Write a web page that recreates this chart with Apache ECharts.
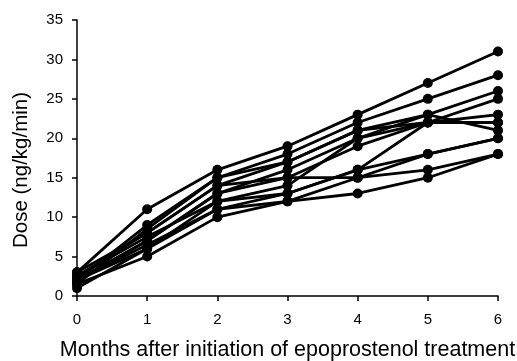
<!DOCTYPE html>
<html><head><meta charset="utf-8">
<script src="https://cdn.jsdelivr.net/npm/echarts@6/dist/echarts.min.js"></script>
<style>html,body{margin:0;padding:0;background:#fff}#c{width:517px;height:361px}</style>
</head><body><div id="c"></div>
<script>
const months = [0, 1, 2, 3, 4, 5, 6];
const yTicks = [0, 5, 10, 15, 20, 25, 30, 35];
const p1  = [3, 11, 16, 19, 23, 27, 31];
const p2  = [2, 9, 15, 18, 22, 25, 28];
const p3  = [2.5, 8, 14, 17, 21, 23, 26];
const p4  = [2, 7, 13, 16, 20, 22, 25];
const p5  = [1.5, 8.5, 15, 17, 21, 22, 23];
const p6  = [2, 7, 13, 15, 19, 22, 22];
const p7  = [1, 6, 12, 14, 20, 23, 21];
const p8  = [2, 6.5, 11, 13, 16, 18, 20];
const p9  = [1.5, 5, 10, 12, 15, 16, 18];
const p10 = [2.5, 7.5, 12, 13, 16, 22, 22];
const p11 = [2, 6, 11, 12, 13, 15, 18];
const p12 = [3, 8, 14, 15, 15, 18, 20];
const patients = [p1,p2,p3,p4,p5,p6,p7,p8,p9,p10,p11,p12];

const chart = echarts.init(document.getElementById('c'));
const font = 'Liberation Sans, Arial, sans-serif';
chart.setOption({
  animation: false,
  grid: {left: 77, right: 19, top: 20, bottom: 65, containLabel: false, outerBoundsMode: 'none'},
  xAxis: {
    type: 'value', min: 0, max: 6, interval: 1,
    name: 'Months after initiation of epoprostenol treatment',
    nameLocation: 'middle', nameGap: 43,
    nameTextStyle: {fontFamily: font, fontSize: 21.5, color: '#000'},
    axisLine: {lineStyle: {color: '#000', width: 1.5}},
    axisTick: {show: true, length: 5, lineStyle: {color: '#000', width: 1.5}},
    axisLabel: {fontFamily: font, fontSize: 15, color: '#000', margin: 16},
    splitLine: {show: false}
  },
  yAxis: {
    type: 'value', min: 0, max: 35, interval: 5,
    name: 'Dose (ng/kg/min)',
    nameLocation: 'middle', nameGap: 45, nameRotate: 90,
    nameTextStyle: {fontFamily: font, fontSize: 20.5, color: '#000', padding: [0, 24, 0, 0]},
    axisLine: {show: true, lineStyle: {color: '#000', width: 1.5}},
    axisTick: {show: true, length: 5, lineStyle: {color: '#000', width: 1.5}},
    axisLabel: {fontFamily: font, fontSize: 15, color: '#000', margin: 14,
      formatter: v => yTicks.includes(v) ? String(v) : ''},
    splitLine: {show: false}
  },
  series: patients.map(p => ({
    type: 'line',
    data: months.map((m, i) => [m, p[i]]),
    symbol: 'circle', symbolSize: 10,
    lineStyle: {color: '#000', width: 2.8},
    itemStyle: {color: '#000'}
  }))
});
</script></body></html>
